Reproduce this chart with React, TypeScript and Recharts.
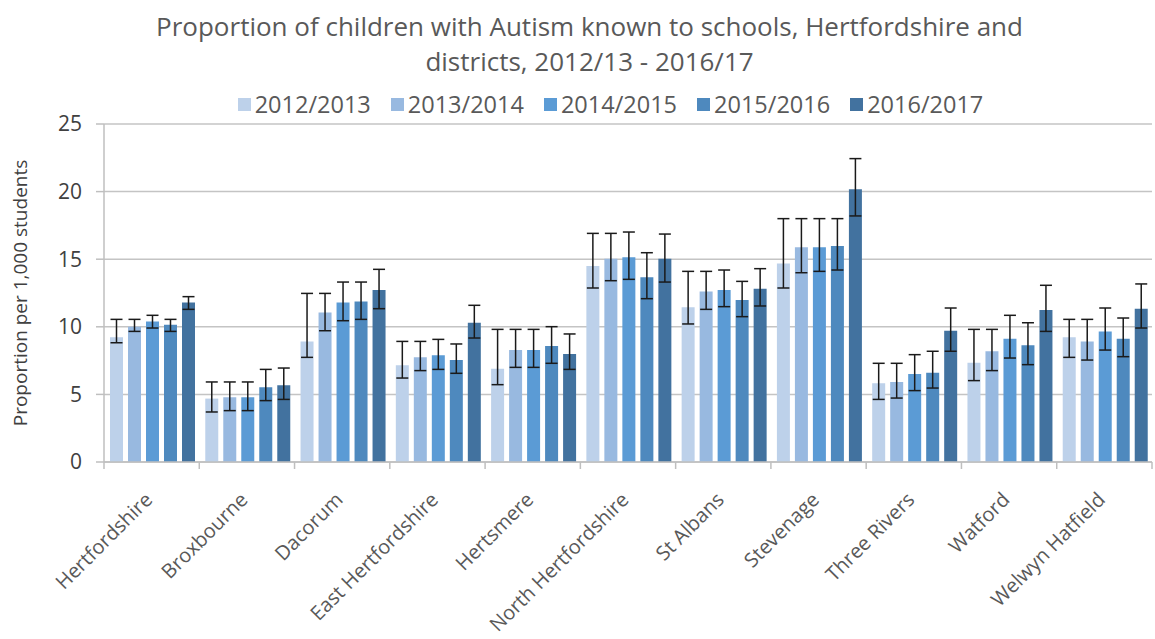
import { BarChart, Bar, XAxis, YAxis, CartesianGrid, ErrorBar } from 'recharts';

const categories = [
  'Hertfordshire', 'Broxbourne', 'Dacorum', 'East Hertfordshire', 'Hertsmere',
  'North Hertfordshire', 'St Albans', 'Stevenage', 'Three Rivers', 'Watford', 'Welwyn Hatfield',
];

const years = ['2012/2013', '2013/2014', '2014/2015', '2015/2016', '2016/2017'];
const colors = ['#BDD1EA', '#98B9E0', '#5B9BD5', '#4E89BE', '#42729F'];

const v2012 = [9.22, 4.69, 8.92, 7.15, 6.9, 14.5, 11.44, 14.69, 5.82, 7.35, 9.22];
const lo2012 = [8.82, 3.7, 7.74, 6.21, 5.72, 12.87, 10.21, 12.87, 4.63, 6.02, 7.74];
const hi2012 = [10.55, 5.92, 12.47, 8.92, 9.81, 16.91, 14.1, 18.0, 7.3, 9.81, 10.55];

const v2013 = [10.01, 4.78, 11.05, 7.74, 8.28, 15.04, 12.62, 15.88, 5.92, 8.19, 8.92];
const lo2013 = [9.66, 3.8, 9.71, 6.76, 7.0, 13.41, 11.29, 14.0, 4.73, 6.76, 7.54];
const hi2013 = [10.55, 5.92, 12.47, 8.92, 9.81, 16.91, 14.1, 18.0, 7.3, 9.81, 10.55];

const v2014 = [10.4, 4.78, 11.79, 7.89, 8.28, 15.14, 12.72, 15.88, 6.51, 9.12, 9.66];
const lo2014 = [9.91, 3.8, 10.45, 6.85, 7.0, 13.51, 11.49, 14.1, 5.28, 7.69, 8.28];
const hi2014 = [10.85, 5.92, 13.31, 9.07, 9.81, 17.01, 14.2, 18.0, 7.94, 10.85, 11.39];

const v2015 = [10.16, 5.52, 11.88, 7.54, 8.58, 13.66, 11.98, 15.98, 6.61, 8.63, 9.12];
const lo2015 = [9.66, 4.54, 10.55, 6.56, 7.3, 12.08, 10.75, 14.2, 5.47, 7.2, 7.79];
const hi2015 = [10.55, 6.85, 13.31, 8.73, 10.01, 15.48, 13.36, 18.0, 8.19, 10.3, 10.65];

const v2016 = [11.79, 5.67, 12.72, 10.3, 7.99, 15.04, 12.82, 20.17, 9.71, 11.24, 11.34];
const lo2016 = [11.29, 4.63, 11.34, 9.17, 6.85, 13.31, 11.54, 18.2, 8.19, 9.66, 9.91];
const hi2016 = [12.23, 6.95, 14.25, 11.59, 9.47, 16.86, 14.3, 22.44, 11.39, 13.07, 13.17];

const yTicks = [0, 5, 10, 15, 20, 25];

const values = [v2012, v2013, v2014, v2015, v2016];
const lows = [lo2012, lo2013, lo2014, lo2015, lo2016];
const highs = [hi2012, hi2013, hi2014, hi2015, hi2016];

const data = categories.map((name, i) => {
  const row: Record<string, any> = { name };
  values.forEach((vals, s) => {
    row[`y${s}`] = vals[i];
    row[`e${s}`] = [vals[i] - lows[s][i], highs[s][i] - vals[i]];
  });
  return row;
});

const FONT = '"Open Sans", sans-serif';
const W = 1155;
const H = 639;
const PLOT_LEFT = 104;
const PLOT_RIGHT = 1152;
const BAND = (PLOT_RIGHT - PLOT_LEFT) / categories.length;

function XTick(props: any) {
  const { x, y, payload, index } = props;
  const i = payload?.index ?? index;
  const ax = x - 3;
  const ay = y + 34;
  return (
    <g>
      <line x1={x - BAND / 2} y1={y} x2={x - BAND / 2} y2={y + 7} stroke="#BFBFBF" strokeWidth={1.5} />
      {i === categories.length - 1 && (
        <line x1={x + BAND / 2} y1={y} x2={x + BAND / 2} y2={y + 7} stroke="#BFBFBF" strokeWidth={1.5} />
      )}
      <text
        x={ax}
        y={ay}
        dy="0.35em"
        textAnchor="end"
        transform={`rotate(-45, ${ax}, ${ay})`}
        fill="#595959"
        fontSize={20}
        fontFamily={FONT}
      >
        {payload.value}
      </text>
    </g>
  );
}

export default function App() {
  return (
    <div style={{ position: 'fixed', left: 0, top: 0, width: W, height: H, background: '#fff', fontFamily: FONT }}>
      <div style={{ position: 'absolute', left: 12, top: 9, width: W, textAlign: 'center', color: '#595959', fontSize: 26, lineHeight: '35px' }}>
        Proportion of children with Autism known to schools, Hertfordshire and
        <br />
        districts, 2012/13 - 2016/17
      </div>
      <div style={{ position: 'absolute', left: 33, top: 88, width: W, display: 'flex', justifyContent: 'center', gap: 20, color: '#595959', fontSize: 23.5 }}>
        {years.map((yr, s) => (
          <span key={yr} style={{ display: 'flex', alignItems: 'center', gap: 4 }}>
            <span style={{ width: 13, height: 13, background: colors[s], display: 'inline-block' }} />
            {yr}
          </span>
        ))}
      </div>
      <div style={{ position: 'absolute', left: 0, top: 0 }}>
        <BarChart
          width={W}
          height={H}
          data={data}
          margin={{ top: 124, right: W - PLOT_RIGHT, bottom: 0, left: 0 }}
          barCategoryGap={6}
          barGap={5}
        >
          <CartesianGrid vertical={false} stroke="#C4C4C4" strokeWidth={1.5} />
          <XAxis
            dataKey="name"
            interval={0}
            height={H - 462}
            axisLine={{ stroke: '#BFBFBF', strokeWidth: 1.5 }}
            tickLine={false}
            tickSize={0}
            tickMargin={0}
            tick={<XTick />}
          />
          <YAxis
            width={PLOT_LEFT}
            domain={[0, 25]}
            ticks={yTicks}
            interval={0}
            axisLine={{ stroke: '#BFBFBF', strokeWidth: 1.5 }}
            tickLine={{ stroke: '#BFBFBF', strokeWidth: 1.5 }}
            tickSize={8}
            tickMargin={14}
            tick={{ fill: '#404040', fontSize: 21, fontFamily: FONT }}
            label={{
              value: 'Proportion per 1,000 students',
              angle: -90,
              position: 'insideLeft',
              offset: 0,
              dx: 20,
              style: { fill: '#404040', fontSize: 19, fontFamily: FONT, textAnchor: 'middle' },
            }}
          />
          {years.map((yr, s) => (
            <Bar key={yr} dataKey={`y${s}`} name={yr} fill={colors[s]} isAnimationActive={false}>
              <ErrorBar dataKey={`e${s}`} width={6} stroke="#1a1a1a" strokeWidth={1.5} direction="y" />
            </Bar>
          ))}
        </BarChart>
      </div>
    </div>
  );
}
